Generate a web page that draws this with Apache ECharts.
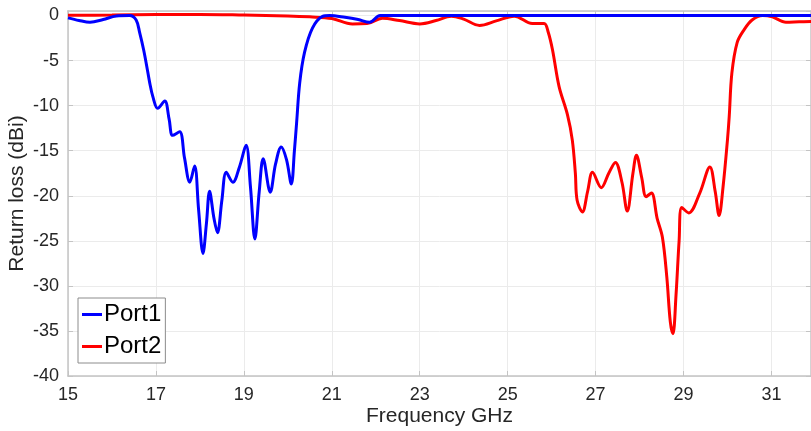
<!DOCTYPE html>
<html>
	<head>
		<meta charset="UTF-8">
		<title>index</title>
		<script src="https://cdn.jsdelivr.net/npm/echarts@6/dist/echarts.min.js"></script>
		<style>
			body{margin:0;background:#fff;}
		</style>
	</head>
	<body>
		<div id="main" style="width:811px;height:431px;"></div>
		<script>
			// Port1 (blue)
			let port1_freq = [15.0,15.25,15.5,15.8,16.1,16.4,16.55,16.63,16.72,16.79,16.86,16.93,17.04,17.2,17.3,17.38,17.54,17.65,17.77,17.88,17.97,18.07,18.15,18.22,18.32,18.4,18.5,18.6,18.75,18.9,19.05,19.15,19.25,19.35,19.44,19.6,19.72,19.85,19.97,20.08,20.15,20.2,20.27,20.38,20.56,20.79,20.95,21.3,21.6,21.86,22.1,25,31.9]
			let port1_val = [-0.26,-0.55,-0.75,-0.45,-0.05,0,-0.5,-1.9,-3.8,-5.6,-7.5,-9,-10.3,-9.5,-11.5,-13.3,-12.9,-15.8,-18.5,-16.7,-21.5,-26.4,-23,-19.5,-22.5,-24.1,-20.5,-17.4,-18.5,-16.8,-14.4,-19,-24.8,-19.5,-15.9,-19.6,-16.5,-14.6,-16,-18.7,-15,-11.9,-7.5,-4.1,-1.4,-0.1,0,-0.2,-0.45,-0.75,0,0,0]
			// Port2 (red)
			let port2_freq = [15.0,16.0,17.0,18.0,19.0,20.0,20.5,21.0,21.47,21.8,22.15,22.54,23.0,23.37,23.72,24.0,24.36,24.74,25.15,25.56,25.83,25.92,26.02,26.17,26.36,26.47,26.54,26.58,26.7,26.82,26.93,27.13,27.3,27.45,27.6,27.72,27.85,27.93,28.05,28.15,28.27,28.4,28.52,28.62,28.7,28.76,28.83,28.9,28.96,29.12,29.37,29.6,29.72,29.81,29.9,30.0,30.04,30.1,30.22,30.38,30.56,30.8,31.02,31.33,31.63,31.9]
			let port2_val = [0.03,0.05,0.1,0.12,0.05,-0.05,-0.15,-0.33,-0.93,-0.9,-0.3,-0.56,-0.93,-0.56,-0.07,-0.4,-1.1,-0.6,-0.07,-0.9,-0.9,-1.8,-3.8,-7.9,-11,-13.8,-17.5,-20.5,-21.8,-19.5,-17.4,-19.1,-17.5,-16.3,-18.5,-21.7,-17.5,-15.5,-18,-20.1,-19.7,-22.5,-24.6,-29,-34,-35.3,-31,-25,-21.3,-21.9,-19.7,-16.8,-19.5,-22.2,-19,-13.8,-11.2,-6.4,-3,-1.56,-0.5,0,-0.15,-0.75,-0.7,-0.67]

			let series_names = ['Port1','Port2']
			let colors = ['#0000ff','#ff0000']

			function pairs(xs,ys) {
				let out = []
				for (let i=0;i<xs.length;i++)
					out.push([xs[i],ys[i]])
				return out
			}

			let font = 'Liberation Sans, Arial, sans-serif'
			let axis_grey = '#c4c4c4'
			let grid_grey = '#ebebeb'

			let chart = echarts.init(document.getElementById('main'))
			let option = {
				animation: false,
				backgroundColor: '#fff',
				grid: {left: 68, top: 11, right: 0, bottom: 55, containLabel: false, outerBoundsMode: 'none'},
				legend: {
					orient: 'vertical',
					left: 78,
					top: 298,
					padding: [3,4,3,4],
					itemGap: 5,
					itemWidth: 20,
					itemHeight: 3,
					icon: 'rect',
					borderColor: '#8c8c8c',
					borderWidth: 1,
					backgroundColor: '#fff',
					textStyle: {fontFamily: font, fontSize: 24, lineHeight: 27, color: '#000', padding: [0,0,0,-3]},
					data: series_names
				},
				xAxis: [{
					type: 'value',
					min: 15,
					max: 31.9,
					interval: 2,
					name: 'Frequency GHz',
					nameLocation: 'middle',
					nameGap: 30,
					nameMoveOverlap: false,
					nameTextStyle: {fontFamily: font, fontSize: 21, color: '#262626'},
					axisLine: {show: true, onZero: false, lineStyle: {color: axis_grey, width: 1.5}},
					axisTick: {show: true, inside: true, length: 5, lineStyle: {color: axis_grey}},
					axisLabel: {fontFamily: font, fontSize: 18, color: '#262626', margin: 10, showMaxLabel: false},
					splitLine: {show: true, lineStyle: {color: grid_grey}}
				},{
					type: 'value',
					position: 'top',
					min: 15,
					max: 31.9,
					interval: 2,
					axisLine: {show: true, onZero: false, lineStyle: {color: axis_grey, width: 1.5}},
					axisTick: {show: true, inside: true, length: 5, lineStyle: {color: axis_grey}},
					axisLabel: {show: false},
					splitLine: {show: false}
				}],
				yAxis: [{
					type: 'value',
					min: -40,
					max: 0.5,
					interval: 5,
					name: 'Return loss (dBi)',
					nameLocation: 'middle',
					nameGap: 40,
					nameMoveOverlap: false,
					nameTextStyle: {fontFamily: font, fontSize: 21, color: '#262626'},
					axisLine: {show: true, onZero: false, lineStyle: {color: axis_grey, width: 1.5}},
					axisTick: {show: true, inside: true, length: 5, lineStyle: {color: axis_grey}},
					axisLabel: {fontFamily: font, fontSize: 18, color: '#262626', margin: 9, showMaxLabel: false},
					splitLine: {show: true, lineStyle: {color: grid_grey}}
				},{
					type: 'value',
					position: 'right',
					min: -40,
					max: 0.5,
					interval: 5,
					axisLine: {show: true, onZero: false, lineStyle: {color: axis_grey, width: 1.5}},
					axisTick: {show: true, inside: true, length: 5, lineStyle: {color: axis_grey}},
					axisLabel: {show: false},
					splitLine: {show: false}
				}],
				series: []
			}

			let all_data = [pairs(port1_freq,port1_val), pairs(port2_freq,port2_val)]
			for (let i=0;i<series_names.length;i++) {
				option.series.push({
					name: series_names[i],
					type: 'line',
					data: all_data[i],
					showSymbol: false,
					smooth: 0.35,
					color: colors[i],
					lineStyle: {color: colors[i], width: 3},
					z: i == 0 ? 3 : 2
				})
			}
			chart.setOption(option)
		</script>
	</body>
</html>
